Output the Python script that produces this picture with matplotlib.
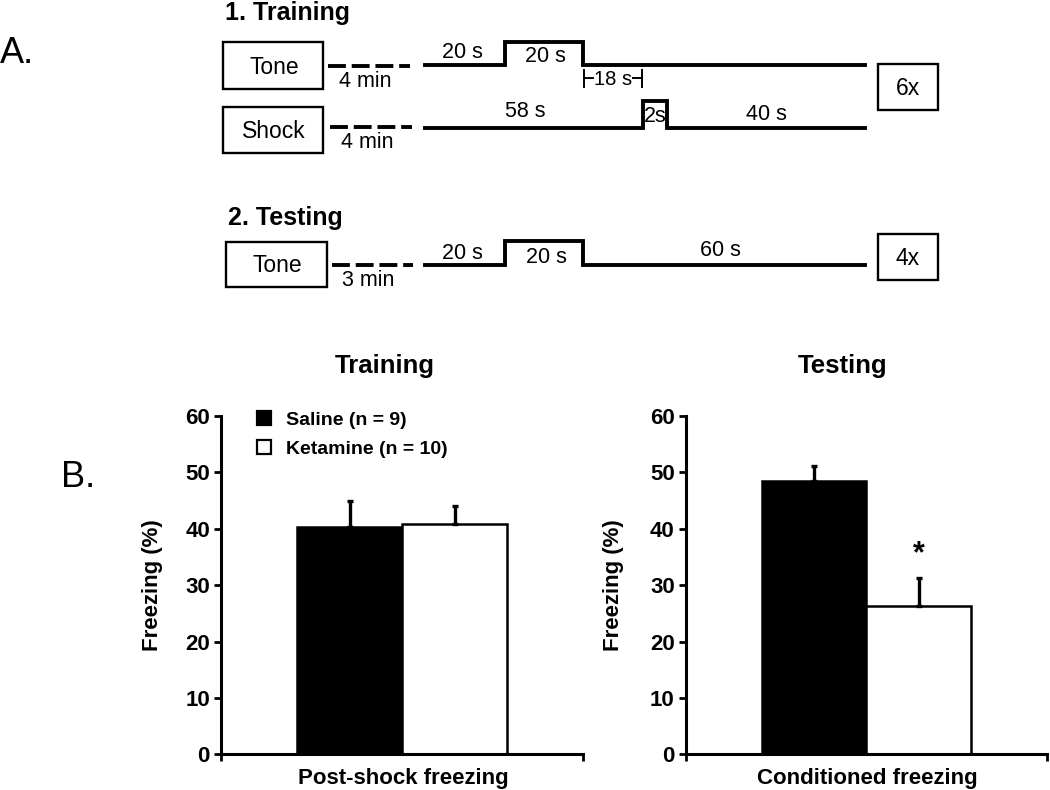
import matplotlib
matplotlib.use('Agg')
from matplotlib import pyplot as plt
from matplotlib.patches import Rectangle, Patch

plt.rcParams['font.family'] = ['Liberation Sans', 'DejaVu Sans']

# ---- data (freezing %, mean and SEM) ----
panels = ['Training', 'Testing']
xlabels = ['Post-shock freezing', 'Conditioned freezing']
groups = ['Saline (n = 9)', 'Ketamine (n = 10)']
saline = [40.3, 48.4]
saline_sem = [4.6, 2.8]
ketamine = [40.9, 26.4]
ketamine_sem = [3.2, 4.9]
signif = ['', '*']
yticks = [0, 10, 20, 30, 40, 50, 60]

# ---- protocol schematic (panel A), laid out in pixels ----
# each row: stimulus box, delay label, step trace (x, level), segment labels
rows = [
    dict(box=(223, 42, 323, 89), name='Tone', delay='4 min', dash=(328, 410, 66),
         trace_x=[425, 505, 583, 865], base=65, high=42,
         labels=[('20 s', 462, 58), ('20 s', 545, 62)]),
    dict(box=(223, 107, 323, 153), name='Shock', delay='4 min', dash=(330, 412, 127),
         trace_x=[425, 643, 667, 865], base=128, high=101,
         labels=[('58 s', 525, 117), ('2s', 655, 122), ('40 s', 766, 120)]),
    dict(box=(226, 242, 327, 287), name='Tone', delay='3 min', dash=(332, 413, 265),
         trace_x=[425, 505, 583, 865], base=265, high=241,
         labels=[('20 s', 462, 259), ('20 s', 546, 263), ('60 s', 720, 256)]),
]
repeat_boxes = [('6x', (878, 64, 938, 110)), ('4x', (878, 234, 938, 280))]
section_titles = [('1. Training', 225, 20), ('2. Testing', 228, 225)]

fig = plt.figure(figsize=(10.5, 7.9), dpi=100)

dax = fig.add_axes([0, 0, 1, 1])
dax.set_xlim(0, 1050)
dax.set_ylim(790, 0)
dax.axis('off')

lw = 2.8
for t, x, y in section_titles:
    dax.text(x, y, t, fontsize=18, fontweight='bold', va='baseline', ha='left')

for r in rows:
    x0, y0, x1, y1 = r['box']
    dax.add_patch(Rectangle((x0, y0), x1 - x0, y1 - y0, fill=False, lw=1.7, ec='black'))
    dax.text((x0 + x1) / 2 + 1, (y0 + y1) / 2 + 8, r['name'], fontsize=16.5,
             ha='center', va='baseline')
    dx0, dx1, dy = r['dash']
    dax.plot([dx0, dx1], [dy, dy], color='black', lw=lw, dashes=(4.6, 1.5))
    dax.text((dx0 + dx1) / 2 - 4, dy + 21, r['delay'], fontsize=15.5,
             ha='center', va='baseline')
    xa, xb, xc, xd = r['trace_x']
    b, h = r['base'], r['high']
    dax.plot([xa, xb, xb, xc, xc, xd], [b, b, h, h, b, b], color='black', lw=lw,
             solid_joinstyle='miter')
    for txt, tx, ty in r['labels']:
        dax.text(tx, ty, txt, fontsize=15.5, ha='center', va='baseline')

# 18 s interval marker between tone offset and shock onset
mk_x0, mk_x1, mk_y = 584, 642, 78
dax.plot([mk_x0, mk_x0], [70, 87], color='black', lw=1.4)
dax.plot([mk_x1, mk_x1], [70, 87], color='black', lw=1.4)
dax.plot([mk_x0, mk_x0 + 9], [mk_y, mk_y], color='black', lw=1.4)
dax.plot([mk_x1 - 9, mk_x1], [mk_y, mk_y], color='black', lw=1.4)
dax.text((mk_x0 + mk_x1) / 2, 85, '18 s', fontsize=14.5, ha='center', va='baseline')

for txt, (x0, y0, x1, y1) in repeat_boxes:
    dax.add_patch(Rectangle((x0, y0), x1 - x0, y1 - y0, fill=False, lw=1.7, ec='black'))
    dax.text((x0 + x1) / 2, (y0 + y1) / 2 + 8, txt, fontsize=16.5,
             ha='center', va='baseline')

fig.text(0.0, 1 - 63 / 790, 'A.', fontsize=26, va='baseline', ha='left')
fig.text(61 / 1050, 1 - 487 / 790, 'B.', fontsize=26, va='baseline', ha='left')

# ---- bar charts (panel B) ----
ax_pos = [[0.2105, 0.045, 0.3448, 0.4285], [0.6533, 0.045, 0.3438, 0.4285]]
ylab_x = [-0.16, -0.172]
title_x = [0.453, 0.435]

for i in range(2):
    ax = fig.add_axes(ax_pos[i])
    ax.bar(0, saline[i], width=1.0, color='black', edgecolor='black', lw=1.8,
           yerr=[[0], [saline_sem[i]]], capsize=2.5,
           error_kw=dict(elinewidth=2.4, capthick=2.4, ecolor='black'))
    ax.bar(1, ketamine[i], width=1.0, color='white', edgecolor='black', lw=1.8,
           yerr=[[0], [ketamine_sem[i]]], capsize=2.5,
           error_kw=dict(elinewidth=2.4, capthick=2.4, ecolor='black'))
    if signif[i]:
        ax.text(1, ketamine[i] + ketamine_sem[i] + 2.7, signif[i], fontsize=22,
                fontweight='bold', ha='center', va='baseline')

    ax.set_xlim(-1.225, 2.225)
    ax.set_ylim(0, 60)
    ax.set_yticks(yticks)
    ax.set_yticklabels([str(v) for v in yticks], fontsize=16, fontweight='bold')
    ax.set_xticks([-1.225, 2.225])
    ax.set_xticklabels(['', ''])
    ax.tick_params(axis='both', direction='out', length=5, width=2.0, pad=3)
    for s in ['top', 'right']:
        ax.spines[s].set_visible(False)
    for s in ['left', 'bottom']:
        ax.spines[s].set_linewidth(2.2)

    ax.set_ylabel('Freezing (%)', fontsize=16, fontweight='bold')
    ax.yaxis.set_label_coords(ylab_x[i], 0.5)
    ax.set_xlabel(xlabels[i], fontsize=16, fontweight='bold')
    ax.xaxis.set_label_coords(0.503, -0.04)
    ax.set_title(panels[i], fontsize=18.5, fontweight='bold', x=title_x[i], pad=31)

    if i == 0:
        handles = [Patch(facecolor='black', edgecolor='black', lw=1.6),
                   Patch(facecolor='white', edgecolor='black', lw=1.6)]
        ax.legend(handles, groups, loc='upper left', bbox_to_anchor=(0.10, 1.015),
                  frameon=False, borderpad=0, borderaxespad=0,
                  handlelength=0.72, handleheight=0.72, handletextpad=0.75,
                  labelspacing=0.6, prop=dict(size=14, weight='bold'))

fig.savefig('out.png', dpi=100)
